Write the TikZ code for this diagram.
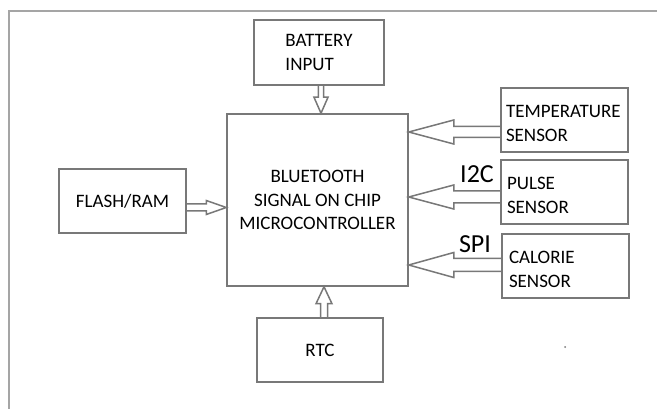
\documentclass[tikz,border=0pt]{standalone}
\usepackage{fontspec}
\setmainfont{Carlito}
\usepackage{xcolor}
\usetikzlibrary{calc}

\definecolor{linegray}{RGB}{120,120,120}
\definecolor{framegray}{RGB}{165,165,165}

\tikzset{
  box/.style={draw=linegray, line width=1.5pt, minimum width=127pt, minimum height=64pt,
    inner sep=0pt, font=\fontsize{19}{23.5}\selectfont},
  lowered/.style={execute at begin node={\rule{0pt}{#1}}},
  sensor/.style={box, align=left, text width=117pt, inner xsep=5pt, lowered=19pt},
  bus/.style={inner sep=0pt, font=\fontsize{26}{28}\selectfont},
  hollow/.style n args={3}{draw=linegray, line width=1.5pt, to path={
    ($(\tikztotarget)!#3!(\tikztostart)$) coordinate (hh)
    ($(\tikztostart)!#1!90:(\tikztotarget)$) -- ($(hh)!#1!90:(\tikztotarget)$)
    -- ($(hh)!#2!90:(\tikztotarget)$) -- (\tikztotarget)
    -- ($(hh)!#2!-90:(\tikztotarget)$) -- ($(hh)!#1!-90:(\tikztotarget)$)
    -- ($(\tikztostart)!#1!-90:(\tikztotarget)$)}},
}

\begin{document}
\begin{tikzpicture}[x=1pt,y=-1pt]
\useasboundingbox (0,0) rectangle (657,409);
\fill[white] (0,0) rectangle (657,409);
\draw[framegray,line width=2pt] (9,430) |- (680,11);

% blocks
\node[box, minimum width=130pt, minimum height=65pt, align=left, lowered=18pt] (batt) at (319,52.5) {BATTERY\\INPUT};
\node[box, minimum width=181pt, minimum height=172pt, align=center, lowered=20pt] (mcu) at (317.5,200) {BLUETOOTH\\SIGNAL ON CHIP\\MICROCONTROLLER};
\node[sensor] (temp) at (564.5,120) {TEMPERATURE\\SENSOR};
\node[sensor, inner xsep=6pt, text width=115pt] (pulse) at (564.5,192) {PULSE\\SENSOR};
\node[sensor, inner xsep=7pt, text width=113pt] (cal) at (565.5,266) {CALORIE\\SENSOR};
\node[box] (flash) at (122.5,201) {FLASH/RAM};
\node[box, minimum width=126pt] (rtc) at (320,350) {RTC};

% bus labels
\node[bus] (i2c) at (477,174) {I2C};
\node[bus] (spi) at (475,244) {SPI};

% arrow ends
\coordinate (bout) at ([xshift=2pt]batt.south);
\coordinate (bin) at (mcu.north -| bout);
\coordinate (rout) at ([xshift=4pt]rtc.north);
\coordinate (rin) at (mcu.south -| rout);
\coordinate (fout) at ([yshift=-6.5pt]flash.east);
\coordinate (fin) at (mcu.west |- fout);
\coordinate (tout) at ([yshift=-12pt]temp.west);
\coordinate (tin) at (mcu.east |- tout);
\coordinate (pout) at ([yshift=-5pt]pulse.west);
\coordinate (pin) at (mcu.east |- pout);
\coordinate (cout) at ([yshift=1pt]cal.west);
\coordinate (cin) at (mcu.east |- cout);

\draw[hollow={2.7pt}{7pt}{16pt}] (bout) to (bin);
\draw[hollow={3.5pt}{8pt}{17pt}] (rout) to (rin);
\draw[hollow={3.5pt}{7pt}{20pt}] (fout) to (fin);
\draw[hollow={5.5pt}{12pt}{45pt}] (tout) to (tin);
\draw[hollow={6pt}{12pt}{45pt}] (pout) to (pin);
\draw[hollow={6.5pt}{12.5pt}{45pt}] (cout) to (cin);

\fill[linegray] (565,347) circle (1);
\end{tikzpicture}
\end{document}
